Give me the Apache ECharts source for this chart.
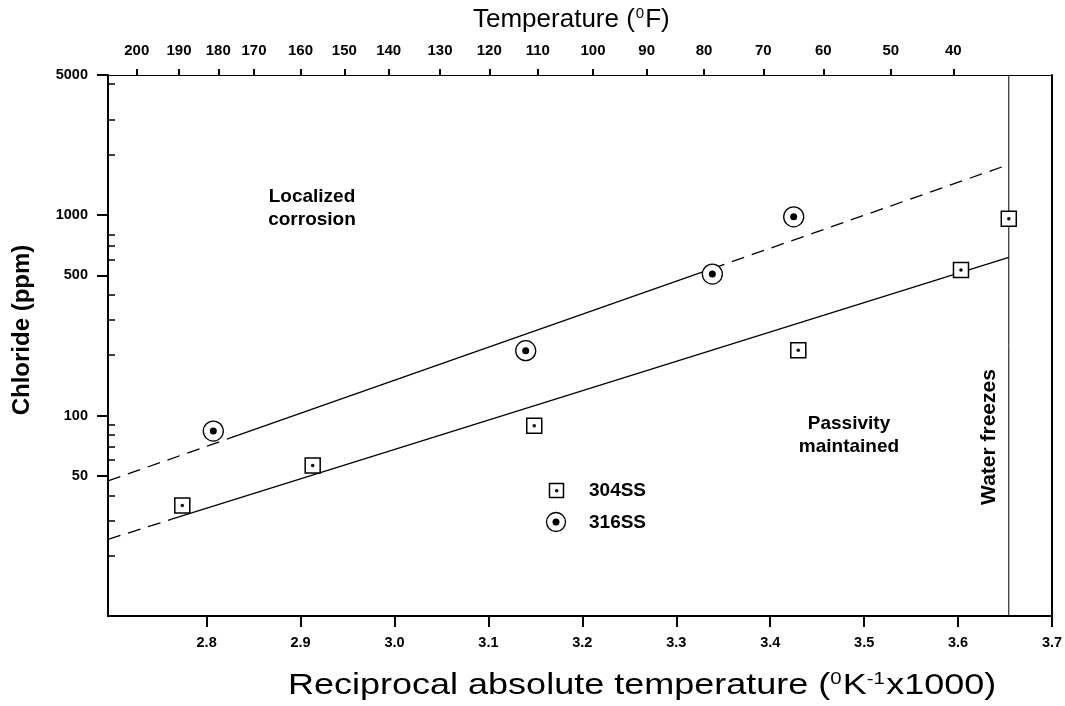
<!DOCTYPE html>
<html><head><meta charset="utf-8">
<script src="https://cdn.jsdelivr.net/npm/echarts@6/dist/echarts.min.js"></script>
<style>html,body{margin:0;padding:0;background:#fff}#c{width:1065px;height:706px}</style>
</head><body><div id="c"></div>
<script>
// ---- data ----
const xTickValues = [2.8, 2.9, 3.0, 3.1, 3.2, 3.3, 3.4, 3.5, 3.6, 3.7];
const fahrenheitLabels = [200, 190, 180, 170, 160, 150, 140, 130, 120, 110, 100, 90, 80, 70, 60, 50, 40];
const fahrenheitTickPos = [2.7256, 2.7706, 2.8124, 2.8504, 2.8999, 2.9466, 2.9938, 3.0485, 3.1009, 3.1525, 3.2113, 3.2685, 3.3295, 3.3926, 3.4565, 3.5283, 3.5949];
const yLabelValues = [50, 100, 500, 1000, 5000];
const yMinorTicks = [4500, 3000, 2000, 800, 700, 600, 400, 300, 200, 90, 80, 70, 60, 40, 30, 20];

const ss304X = [2.7741, 2.9129, 3.1488, 3.4299, 3.6031, 3.654];
const ss304Y = [35.6, 56.4, 88.9, 211.5, 531.8, 959];
const ss316X = [2.8071, 3.1397, 3.3384, 3.425];
const ss316Y = [83.7, 210.6, 508, 981];

const fit304X = [2.695, 2.7628, 3.654];
const fit304Y = [24.1, 30.4, 615.6];
const fit316X = [2.695, 2.8337, 3.3381, 3.654];
const fit316Y = [47.2, 79.8, 540.7, 1788];
const waterFreezesX = 3.654;

// ---- helpers ----
const FONT = 'Liberation Sans, Arial, Helvetica, sans-serif';
const pairs = (xs, ys, a, b) => xs.slice(a, b + 1).map((x, i) => [x, ys[a + i]]);
const ptPairs = (xs, ys) => xs.map((x, i) => [x, ys[i]]);
const lineSeries = (data, dashed) => ({
  type: 'line', data, showSymbol: false, silent: true, z: 2,
  xAxisIndex: 0, yAxisIndex: 0,
  lineStyle: { color: '#000', width: 1.3, type: dashed ? [13, 8] : 'solid' }
});

const chart = echarts.init(document.getElementById('c'), null, { renderer: 'canvas' });
const X_MIN = 2.695, X_MAX = 3.7;

const option = {
  animation: false,
  backgroundColor: '#fff',
  grid: { left: 108, right: 13, top: 75, bottom: 90, containLabel: false, outerBoundsMode: 'none' },
  xAxis: [
    {
      type: 'value', position: 'bottom', min: X_MIN, max: X_MAX,
      axisLine: { show: true, onZero: false, lineStyle: { color: '#000', width: 2 } },
      axisTick: { show: true, customValues: xTickValues, length: 11, lineStyle: { color: '#000', width: 2 } },
      axisLabel: { customValues: xTickValues, margin: 19, color: '#000', fontFamily: FONT, fontWeight: 'bold', fontSize: 14.5,
        formatter: v => Number(v).toFixed(1) },
      splitLine: { show: false }
    },
    {
      type: 'value', position: 'top', min: X_MIN, max: X_MAX,
      axisLine: { show: true, onZero: false, lineStyle: { color: '#000', width: 1 } },
      axisTick: { show: true, customValues: fahrenheitTickPos, length: 6, lineStyle: { color: '#000', width: 2 } },
      axisLabel: { customValues: fahrenheitTickPos, margin: 17, color: '#000', fontFamily: FONT, fontWeight: 'bold', fontSize: 15,
        formatter: v => {
          let best = 0, d = 1e9;
          fahrenheitTickPos.forEach((p, i) => { if (Math.abs(p - v) < d) { d = Math.abs(p - v); best = i; } });
          return String(fahrenheitLabels[best]);
        } },
      splitLine: { show: false }
    }
  ],
  yAxis: [
    {
      type: 'log', logBase: 10, min: 10, max: 5000, position: 'left',
      axisLine: { show: true, onZero: false, lineStyle: { color: '#000', width: 2 } },
      axisTick: { show: true, customValues: yLabelValues, length: 11, lineStyle: { color: '#000', width: 2 } },
      axisLabel: { customValues: yLabelValues, margin: 20, color: '#000', fontFamily: FONT, fontWeight: 'bold', fontSize: 14.5,
        formatter: v => String(Math.round(v)) },
      splitLine: { show: false }
    },
    {
      type: 'log', logBase: 10, min: 10, max: 5000, position: 'left',
      axisLine: { show: false },
      axisTick: { show: true, inside: true, customValues: yMinorTicks, length: 7, lineStyle: { color: '#000', width: 1.5 } },
      axisLabel: { show: false },
      splitLine: { show: false }
    },
    {
      type: 'log', logBase: 10, min: 10, max: 5000, position: 'right',
      axisLine: { show: true, onZero: false, lineStyle: { color: '#000', width: 2 } },
      axisTick: { show: false }, axisLabel: { show: false }, splitLine: { show: false }
    }
  ],
  series: [
    // water freezes line
    { type: 'line', data: [[waterFreezesX, 10], [waterFreezesX, 5000]], showSymbol: false, silent: true, z: 1,
      lineStyle: { color: '#000', width: 1 } },
    // 316SS fit: dashed - solid - dashed
    lineSeries(pairs(fit316X, fit316Y, 0, 1), true),
    lineSeries(pairs(fit316X, fit316Y, 1, 2), false),
    lineSeries(pairs(fit316X, fit316Y, 2, 3), true),
    // 304SS fit: dashed - solid
    lineSeries(pairs(fit304X, fit304Y, 0, 1), true),
    lineSeries(pairs(fit304X, fit304Y, 1, 2), false),
    // 304SS markers
    { name: '304SS', type: 'scatter', data: ptPairs(ss304X, ss304Y), symbol: 'rect', symbolSize: 15, z: 5,
      itemStyle: { color: '#fff', borderColor: '#000', borderWidth: 1.5, opacity: 1 } },
    { type: 'scatter', data: ptPairs(ss304X, ss304Y), symbol: 'circle', symbolSize: 3.5, z: 6,
      itemStyle: { color: '#000', opacity: 1 } },
    // 316SS markers
    { name: '316SS', type: 'scatter', data: ptPairs(ss316X, ss316Y), symbol: 'circle', symbolSize: 20, z: 5,
      itemStyle: { color: '#fff', borderColor: '#000', borderWidth: 1.3, opacity: 1 } },
    { type: 'scatter', data: ptPairs(ss316X, ss316Y), symbol: 'circle', symbolSize: 7, z: 6,
      itemStyle: { color: '#000', opacity: 1 } }
  ],
  graphic: [
    // axis titles
    { type: 'text', left: 473, top: 6, z: 10, style: {
        text: 'Temperature ({s|0}F)', font: '26px ' + FONT, fill: '#000',
        rich: { s: { fontSize: 15, fontFamily: FONT, verticalAlign: 'top', padding: [0, 1, 12, 1] } } } },
    { type: 'text', x: 22, y: 330, rotation: Math.PI / 2, z: 10, style: {
        text: 'Chloride (ppm)', font: 'bold 24px ' + FONT, fill: '#000', align: 'center', verticalAlign: 'middle' } },
    { type: 'text', x: 288, y: 686, scaleX: 1.2, z: 10, style: {
        text: 'Reciprocal absolute temperature ({s|0}K{s|-1}x1000)', font: '30px ' + FONT, fill: '#000',
        align: 'left', verticalAlign: 'middle',
        rich: { s: { fontSize: 17, fontFamily: FONT, verticalAlign: 'top', padding: [0, 1, 13, 0] } } } },
    // annotations
    { type: 'text', x: 312, y: 208, z: 10, style: {
        text: 'Localized\ncorrosion', font: 'bold 19px ' + FONT, fill: '#000', align: 'center', verticalAlign: 'middle', lineHeight: 23 } },
    { type: 'text', x: 849, y: 435, z: 10, style: {
        text: 'Passivity\nmaintained', font: 'bold 19px ' + FONT, fill: '#000', align: 'center', verticalAlign: 'middle', lineHeight: 23 } },
    { type: 'text', x: 989, y: 437, rotation: Math.PI / 2, z: 10, style: {
        text: 'Water freezes', font: 'bold 21px ' + FONT, fill: '#000', align: 'center', verticalAlign: 'middle' } },
    // legend
    { type: 'rect', shape: { x: 549.5, y: 483.5, width: 14, height: 14 }, z: 10,
      style: { fill: '#fff', stroke: '#000', lineWidth: 1.5 } },
    { type: 'circle', shape: { cx: 556.7, cy: 490.7, r: 1.8 }, z: 11, style: { fill: '#000' } },
    { type: 'circle', shape: { cx: 556, cy: 522, r: 9.5 }, z: 10, style: { fill: '#fff', stroke: '#000', lineWidth: 1.3 } },
    { type: 'circle', shape: { cx: 556, cy: 522, r: 3.5 }, z: 11, style: { fill: '#000' } },
    { type: 'text', x: 589, y: 491, z: 10, style: { text: '304SS', font: 'bold 19px ' + FONT, fill: '#000', verticalAlign: 'middle' } },
    { type: 'text', x: 589, y: 522.5, z: 10, style: { text: '316SS', font: 'bold 19px ' + FONT, fill: '#000', verticalAlign: 'middle' } }
  ]
};
chart.setOption(option);
</script>
</body></html>
